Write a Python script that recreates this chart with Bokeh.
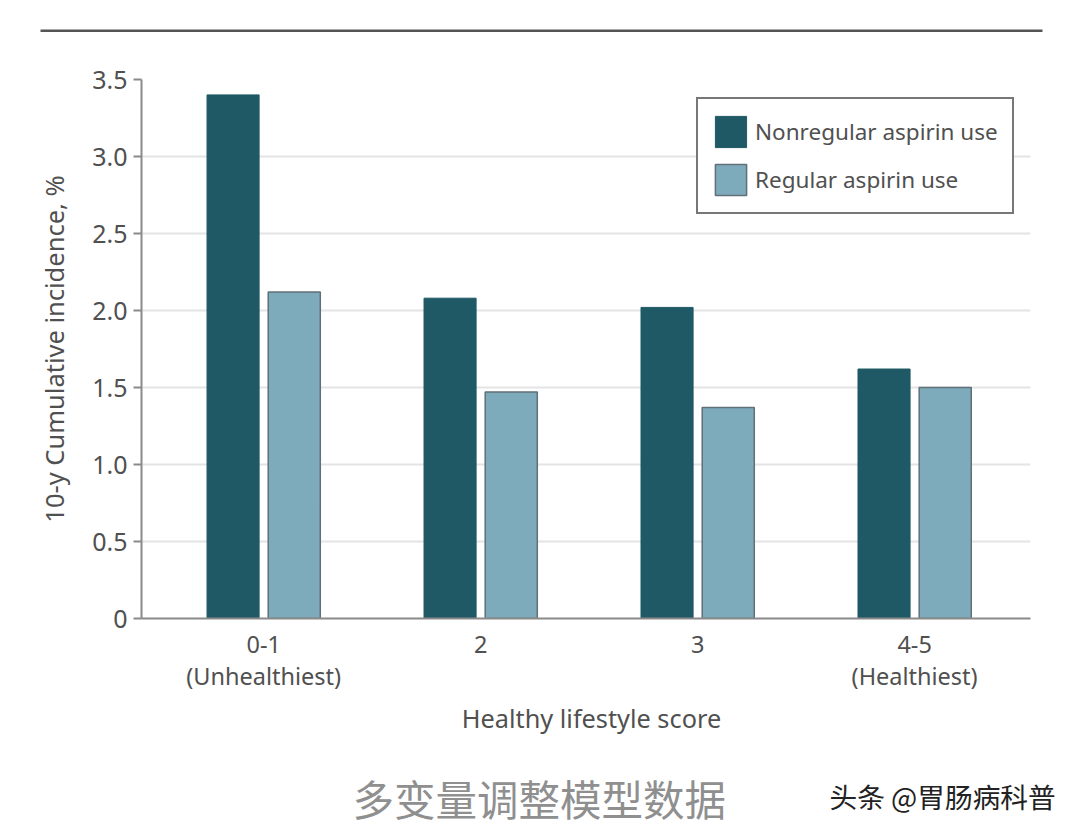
from bokeh.plotting import figure
from bokeh.layouts import column
from bokeh.models import Range1d, FixedTicker, Legend, LegendItem, Label, BoxAnnotation, ColumnDataSource
from bokeh.embed import file_html
from bokeh.resources import INLINE

categories = ["0-1\n(Unhealthiest)", "2", "3", "4-5\n(Healthiest)"]
positions = [0, 1, 2, 3]
nonregular = [3.40, 2.08, 2.02, 1.62]
regular = [2.12, 1.47, 1.37, 1.50]
y_ticks = [0, 0.5, 1.0, 1.5, 2.0, 2.5, 3.0, 3.5]
y_labels = ["0", "0.5", "1.0", "1.5", "2.0", "2.5", "3.0", "3.5"]
series_names = ["Nonregular aspirin use", "Regular aspirin use"]
x_title = "Healthy lifestyle score"
y_title = "10-y Cumulative incidence, %"
caption = "多变量调整模型数据"
watermark = "头条 @胃肠病科普"

FONT = "Noto Sans"
TXT = "#505050"
AX = "#8a8a8a"
DARK = "#1f5965"
LIGHT = "#7dabbb"


def blank(h):
    f = figure(width=1080, height=h, output_backend="svg", toolbar_location=None,
               x_range=Range1d(0, 1080), y_range=Range1d(0, h),
               x_axis_type=None, y_axis_type=None, min_border=0, frame_align=False)
    f.outline_line_color = None
    f.grid.visible = False
    return f


# top rule
top = blank(40)
top.add_layout(BoxAnnotation(left=40, right=1042, top=11, bottom=8.5,
                             left_units="screen", right_units="screen",
                             top_units="screen", bottom_units="screen",
                             fill_color="#555555", fill_alpha=1, line_color=None))

# chart
p = figure(width=1080, height=660, output_backend="svg", toolbar_location=None,
           x_range=Range1d(-0.563, 3.534), y_range=Range1d(0, 3.5), frame_align=False,
           min_border_left=141, min_border_right=50, min_border_top=39, min_border_bottom=82)
p.outline_line_color = None
p.background_fill_color = "white"

p.xgrid.visible = False
p.ygrid.grid_line_color = "#e4e4e4"
p.ygrid.grid_line_width = 2

src = ColumnDataSource(dict(x=positions, a=nonregular, b=regular,
                            xa=[v - 0.141 for v in positions], xb=[v + 0.141 for v in positions]))
r1 = p.vbar(x="xa", top="a", width=0.24, source=src, fill_color=DARK, line_color=DARK, line_width=1)
r2 = p.vbar(x="xb", top="b", width=0.24, source=src, fill_color=LIGHT, line_color="#5f7077", line_width=1.5)

xa = p.xaxis[0]
xa.ticker = FixedTicker(ticks=positions)
xa.major_label_overrides = {k: v for k, v in zip(positions, categories)}
xa.major_tick_line_color = None
xa.minor_tick_line_color = None
xa.axis_line_color = AX
xa.axis_line_width = 2
xa.major_label_text_font = FONT
xa.major_label_text_font_size = "23.5px"
xa.major_label_text_color = TXT
xa.major_label_text_line_height = 1.0
xa.major_label_standoff = 3

ya = p.yaxis[0]
ya.ticker = FixedTicker(ticks=y_ticks)
ya.major_label_overrides = {k: v for k, v in zip(y_ticks, y_labels)}
ya.minor_tick_line_color = None
ya.major_tick_line_color = AX
ya.major_tick_line_width = 2
ya.major_tick_out = 8
ya.major_tick_in = 0
ya.axis_line_color = AX
ya.axis_line_width = 2
ya.major_label_text_font = FONT
ya.major_label_text_font_size = "25px"
ya.major_label_text_color = TXT
ya.major_label_standoff = 6
ya.axis_label = y_title
ya.axis_label_text_font = FONT
ya.axis_label_text_font_size = "25.5px"
ya.axis_label_text_font_style = "normal"
ya.axis_label_text_color = TXT
ya.axis_label_standoff = 18

legend = Legend(items=[LegendItem(label=series_names[0], renderers=[r1]),
                       LegendItem(label=series_names[1], renderers=[r2])],
                location=(555, 404), orientation="vertical",
                border_line_color="#777777", border_line_width=2, border_line_alpha=1,
                background_fill_color="white", background_fill_alpha=1,
                padding=13, margin=0, spacing=9,
                glyph_width=39, glyph_height=39, label_standoff=5, label_width=244,
                label_text_font=FONT, label_text_font_size="22.5px", label_text_color=TXT)
p.add_layout(legend, "center")

# bottom band: x title, caption, watermark
bot = blank(134)
bot.add_layout(Label(x=591, y=117, x_units="screen", y_units="screen", text=x_title,
                     text_align="center", text_baseline="middle",
                     text_font=FONT, text_font_size="25.3px", text_color=TXT))
bot.add_layout(Label(x=352, y=37, x_units="screen", y_units="screen", text=caption,
                     text_baseline="middle",
                     text_font="Noto Sans CJK SC", text_font_size="41.5px", text_color="#8f8f8f"))
bot.add_layout(Label(x=829, y=39, x_units="screen", y_units="screen", text=watermark,
                     text_baseline="middle",
                     text_font="Noto Sans CJK SC", text_font_size="27.7px", text_color="#222222"))

page = column(top, p, bot, spacing=0)
open("out.html", "w").write(file_html(page, INLINE))
